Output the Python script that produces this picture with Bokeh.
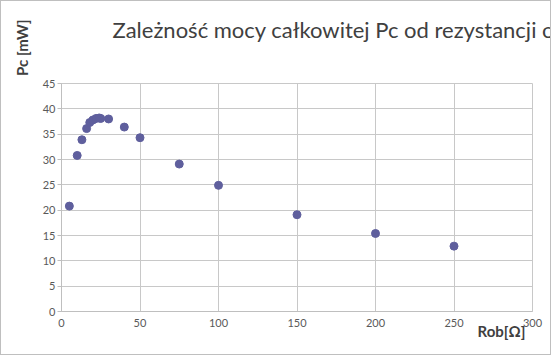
from bokeh.plotting import figure
from bokeh.models import Title, Range1d, SingleIntervalTicker
from bokeh.embed import file_html
from bokeh.resources import INLINE

rob = [5, 10, 13, 16, 18, 20, 22, 24, 25, 30, 40, 50, 75, 100, 150, 200, 250]
pc = [20.8, 30.8, 33.9, 36.1, 37.3, 37.8, 38.1, 38.2, 38.1, 38.0, 36.4, 34.3, 29.1, 24.9, 19.1, 15.4, 12.9]

title_text = "Zależność mocy całkowitej Pc od rezystancji obciążenia"
x_label = "Rob[Ω]"
y_label = "Pc [mW]"

p = figure(width=551, height=355, output_backend="svg", toolbar_location=None, title=None,
           x_range=Range1d(0, 300), y_range=Range1d(0, 45),
           min_border_left=60, min_border_right=20, min_border_top=82, min_border_bottom=45)
p.styles = {"border": "1px solid #bfbfbf", "box-sizing": "border-box"}

p.scatter(rob, pc, size=8, color="#5f5f9d")

p.xaxis.ticker = SingleIntervalTicker(interval=50)
p.yaxis.ticker = SingleIntervalTicker(interval=5)
for ax in (p.xaxis[0], p.yaxis[0]):
    ax.axis_line_color = "#bfbfbf"
    ax.major_tick_line_color = "#bfbfbf"
    ax.minor_tick_line_color = None
    ax.major_label_text_font = "Lato"
    ax.major_label_text_font_size = "11px"
    ax.major_label_text_color = "#595959"
    ax.major_tick_in = 0
p.xaxis.major_tick_out = 0
p.yaxis.major_tick_out = 4
p.xaxis.major_label_standoff = 3
p.yaxis.major_label_standoff = 2
p.xgrid.grid_line_color = "#c8c8c8"
p.ygrid.grid_line_color = "#c8c8c8"
p.outline_line_color = "#c8c8c8"

# spacer between frame and title (nearest the frame)
p.add_layout(Title(text=" ", text_font_size="1px", standoff=38), "above")
p.add_layout(Title(text=title_text, align="left", offset=51, standoff=0,
                   text_font="Lato", text_font_size="22px", text_font_style="normal",
                   text_color="#404040"), "above")

p.add_layout(Title(text=y_label, align="right", offset=-64, standoff=18,
                   text_font="Lato", text_font_size="15px", text_font_style="bold",
                   text_color="#404040"), "left")
p.add_layout(Title(text=x_label, align="right", offset=7, standoff=-20,
                   text_font="Lato", text_font_size="15px", text_font_style="bold",
                   text_color="#404040"), "below")

open("out.html", "w").write(file_html(p, INLINE))
